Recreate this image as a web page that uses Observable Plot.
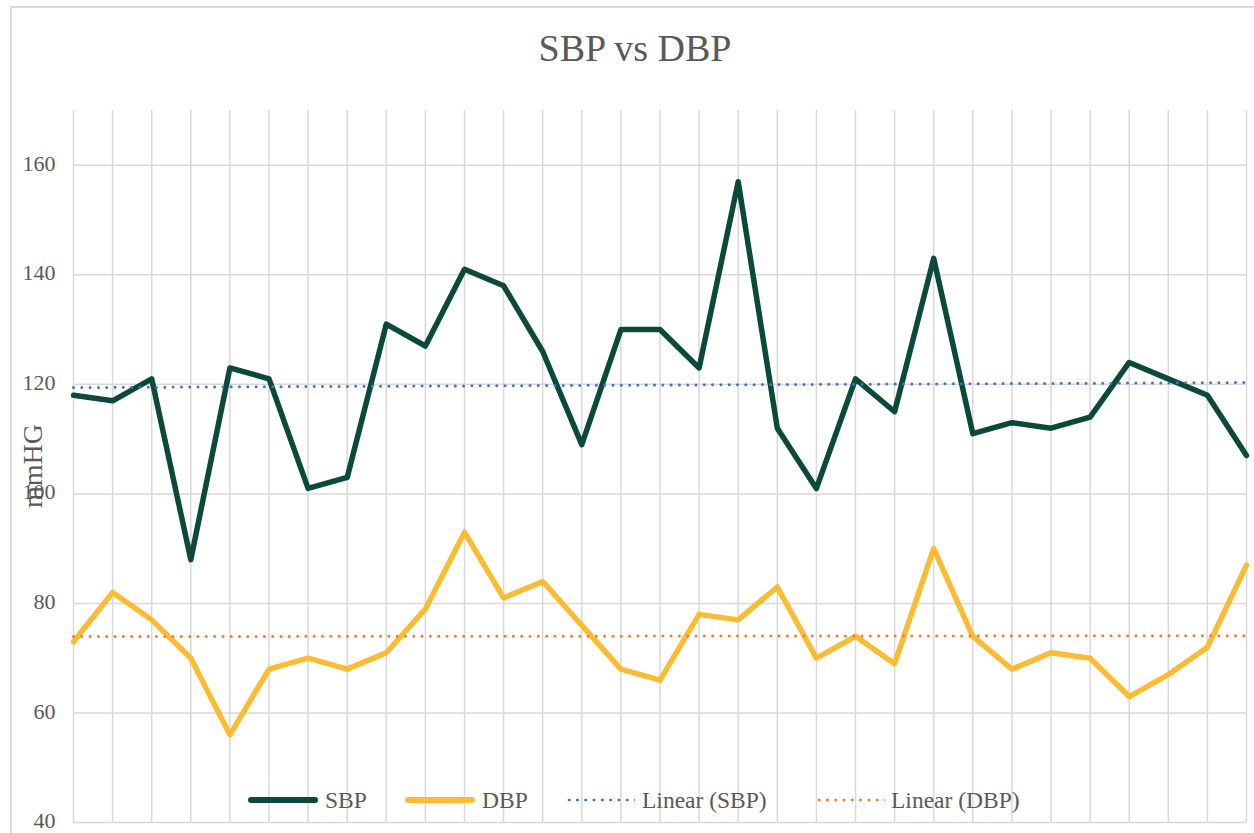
<!DOCTYPE html>
<html><head><meta charset="utf-8">
<script src="https://cdn.jsdelivr.net/npm/d3@7"></script>
<script src="https://cdn.jsdelivr.net/npm/@observablehq/plot@0.6"></script>
<style>
body{margin:0;background:#fff;}
#wrap{position:relative;width:1254px;height:833px;overflow:hidden;font-family:"Liberation Serif",serif;color:#595959;}
#border{position:absolute;left:10px;top:6px;width:1300px;height:900px;border:2px solid #d9d9d9;box-sizing:border-box;}
#title{position:absolute;left:10px;width:1250px;top:27px;height:42px;line-height:42px;text-align:center;font-size:38px;}
#chart{position:absolute;left:0;top:95px;}
#ylabel{position:absolute;left:33px;top:466px;transform:translate(-50%,-50%) rotate(-90deg);font-size:28px;white-space:nowrap;}
.lg{position:absolute;}
.lgtext{position:absolute;top:786px;height:28px;line-height:28px;font-size:23.5px;white-space:nowrap;}
</style>
</head><body>
<div id="wrap">
<div id="border"></div>
<div id="title">SBP vs DBP</div>
<div id="chart"></div>
<div id="ylabel">mmHG</div>
<div id="legend"></div>
</div>
<script>
const categories = [1,2,3,4,5,6,7,8,9,10,11,12,13,14,15,16,17,18,19,20,21,22,23,24,25,26,27,28,29,30,31];
const sbp = [118,117,121,88,123,121,101,103,131,127,141,138,126,109,130,130,123,157,112,101,121,115,143,111,113,112,114,124,121,118,107];
const dbp = [73,82,77,70,56,68,70,68,71,79,93,81,84,76,68,66,78,77,83,70,74,69,90,74,68,71,70,63,67,72,87];
const yTicks = [40,60,80,100,120,140,160];
const seriesNames = ["SBP","DBP","Linear (SBP)","Linear (DBP)"];
const colors = ["#0b4a3a","#fbbc33","#4472c4","#ed7d31"];

function trend(vals){
  const n = vals.length;
  const xs = categories;
  const mx = d3.mean(xs), my = d3.mean(vals);
  let num=0, den=0;
  for(let i=0;i<n;i++){num+=(xs[i]-mx)*(vals[i]-my);den+=(xs[i]-mx)**2;}
  const b = num/den, a = my - b*mx;
  return xs.map(x=>({x, y:a+b*x}));
}
const sbpData = categories.map((c,i)=>({x:c,y:sbp[i]}));
const dbpData = categories.map((c,i)=>({x:c,y:dbp[i]}));
const sbpTrend = trend(sbp), dbpTrend = trend(dbp);

const chart = Plot.plot({
  width:1254, height:738,
  marginTop:15, marginBottom:11, marginLeft:73, marginRight:8,
  style:{fontFamily:'"Liberation Serif", serif', fontSize:"22px", color:"#595959", background:"transparent", overflow:"visible"},
  x:{domain:[1,31], axis:null},
  y:{domain:[40,170], axis:null},
  marks:[
    Plot.ruleX(categories,{x:d=>d, y1:40, y2:170, stroke:"#d9d9d9", strokeWidth:1.5}),
    Plot.ruleY(yTicks,{y:d=>d, stroke:"#d9d9d9", strokeWidth:1.5}),
    Plot.axisY({ticks:yTicks, tickSize:0, tickPadding:18, label:null, tickFormat:d=>String(d), fill:"#595959", dy:-1.5}),
    Plot.line(sbpData,{x:"x", y:"y", stroke:colors[0], strokeWidth:5.5, strokeLinejoin:"round", strokeLinecap:"round"}),
    Plot.line(dbpData,{x:"x", y:"y", stroke:colors[1], strokeWidth:5.5, strokeLinejoin:"round", strokeLinecap:"round"}),
    Plot.line(sbpTrend,{x:"x", y:"y", stroke:colors[2], strokeWidth:3, strokeDasharray:"0 8.3", strokeLinecap:"round"}),
    Plot.line(dbpTrend,{x:"x", y:"y", stroke:colors[3], strokeWidth:3, strokeDasharray:"0 8.3", strokeLinecap:"round"})
  ]
});
document.getElementById("chart").appendChild(chart);

// legend
const lg = document.getElementById("legend");
const swatchX = [248, 405, 565, 815];
const textX = [325, 482, 642, 891];
seriesNames.forEach((name,i)=>{
  const s = document.createElement("div");
  s.className="lg";
  s.style.left = swatchX[i]+"px";
  s.style.width = "70px";
  if(i<2){
    s.style.top="797px"; s.style.height="6px"; s.style.borderRadius="3px"; s.style.background=colors[i];
  } else {
    s.style.top="798px"; s.style.height="4px";
    s.style.background=`radial-gradient(circle, ${colors[i]} 1.3px, transparent 1.7px) 0 0 / 8.3px 4px repeat-x`;
  }
  lg.appendChild(s);
  const t = document.createElement("div");
  t.className="lgtext";
  t.style.left = textX[i]+"px";
  t.textContent = name;
  lg.appendChild(t);
});
</script>
</body></html>
